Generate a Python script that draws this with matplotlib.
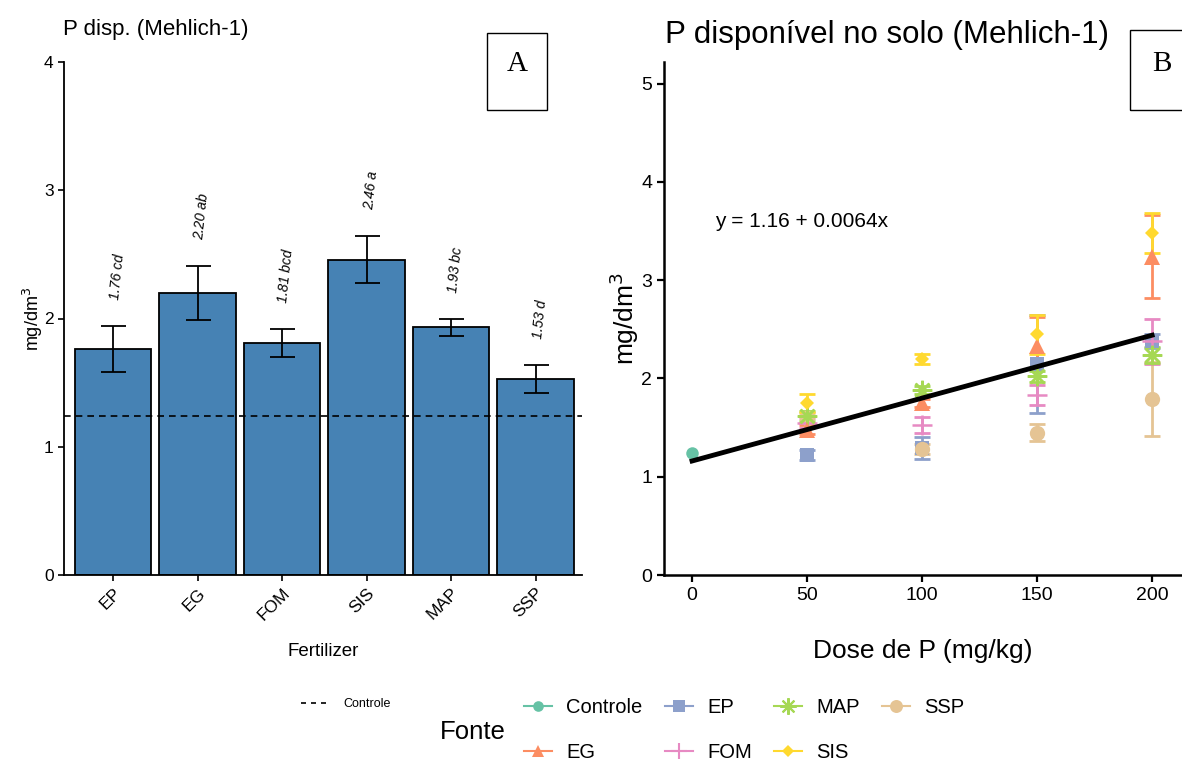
import matplotlib
matplotlib.use("Agg")
import matplotlib.pyplot as plt
from matplotlib.lines import Line2D
from matplotlib.patches import Rectangle
import numpy as np

plt.rcParams['font.family'] = ['Liberation Sans', 'DejaVu Sans']

# ---------------- Panel A data ----------------
fert = ["EP", "EG", "FOM", "SIS", "MAP", "SSP"]
fert_mean = [1.76, 2.20, 1.81, 2.46, 1.93, 1.53]
fert_err = [0.18, 0.21, 0.11, 0.18, 0.07, 0.11]
fert_letters = ["cd", "ab", "bcd", "a", "bc", "d"]
control_value = 1.24

# ---------------- Panel B data ----------------
doses = [50, 100, 150, 200]
sources = ["Controle", "EG", "EP", "FOM", "MAP", "SIS", "SSP"]
control_dose = [0]
control_mean = [1.24]
control_err = [0.0]
ep_mean = [1.22, 1.29, 2.15, 2.38]
ep_err = [0.05, 0.11, 0.50, 0.07]
eg_mean = [1.48, 1.75, 2.33, 3.24]
eg_err = [0.05, 0.04, 0.30, 0.42]
fom_mean = [1.55, 1.53, 1.83, 2.38]
fom_err = [0.05, 0.08, 0.10, 0.23]
map_mean = [1.62, 1.88, 2.02, 2.24]
map_err = [0.05, 0.04, 0.06, 0.08]
sis_mean = [1.75, 2.20, 2.45, 3.48]
sis_err = [0.09, 0.05, 0.20, 0.20]
ssp_mean = [1.60, 1.28, 1.45, 1.79]
ssp_err = [0.05, 0.05, 0.09, 0.38]
reg_intercept = 1.16
reg_slope = 0.0064

W, H = 1182, 760
fig = plt.figure(figsize=(W / 100, H / 100), dpi=100)

def fx(px):
    return px / W

def fy(py):
    return 1 - py / H

# ---------------- Panel A ----------------
axA = fig.add_axes([fx(64), fy(575), fx(582) - fx(64), fy(62) - fy(575)])
x = np.arange(len(fert))
axA.bar(x, fert_mean, width=0.9, color="#4682B4", edgecolor="black", linewidth=1.3, zorder=2)
axA.errorbar(x, fert_mean, yerr=fert_err, fmt="none", ecolor="black", elinewidth=1.3,
             capsize=9, capthick=1.3, zorder=3)
axA.axhline(control_value, color="black", linestyle=(0, (4, 3)), linewidth=1.2, zorder=4)
for xi, m, e, l in zip(x, fert_mean, fert_err, fert_letters):
    axA.text(xi + 0.05, m + e + 0.2, f"{m:.2f} {l}", rotation=84, ha="center", va="bottom",
             fontsize=10, style="italic")
axA.set_xlim(-0.58, 5.55)
axA.set_ylim(0, 4)
axA.set_yticks([0, 1, 2, 3, 4])
axA.set_xticks(x)
axA.set_xticklabels(fert, rotation=45, ha="right", rotation_mode="anchor", fontsize=12.5)
axA.tick_params(axis="y", labelsize=12.5, length=4, width=1.2)
axA.tick_params(axis="x", length=4, width=1.2)
for s in ["top", "right"]:
    axA.spines[s].set_visible(False)
for s in ["left", "bottom"]:
    axA.spines[s].set_linewidth(1.3)
axA.set_xlabel("Fertilizer", fontsize=13.5, labelpad=14)
axA.set_ylabel("mg/dm$^3$", fontsize=13, labelpad=-1)
fig.text(fx(63), fy(30), "P disp. (Mehlich-1)", fontsize=16, ha="left", va="center")

# Box A
fig.patches.append(Rectangle((fx(487), fy(110)), fx(547) - fx(487), fy(33) - fy(110),
                             transform=fig.transFigure, fill=False, edgecolor="black",
                             linewidth=1.0))
fig.text(fx(517), fy(64), "A", fontsize=21, family="Liberation Serif", ha="center", va="center")

# ---------------- Panel B ----------------
axB = fig.add_axes([fx(664), fy(575), fx(1182) - fx(664), fy(62) - fy(575)])
colors = {"Controle": "#66C2A5", "EG": "#FC8D62", "EP": "#8DA0CB", "FOM": "#E78AC3",
          "MAP": "#A6D854", "SIS": "#FFD92F", "SSP": "#E5C494"}
markers = {"Controle": "o", "EG": "^", "EP": "s", "FOM": "+", "MAP": (8, 2, 0),
           "SIS": "D", "SSP": "o"}
msizes = {"Controle": 9, "EG": 11, "EP": 10, "FOM": 14, "MAP": 14, "SIS": 7, "SSP": 11}
series = {
    "Controle": (control_dose, control_mean, control_err),
    "EP": (doses, ep_mean, ep_err),
    "SSP": (doses, ssp_mean, ssp_err),
    "FOM": (doses, fom_mean, fom_err),
    "MAP": (doses, map_mean, map_err),
    "EG": (doses, eg_mean, eg_err),
    "SIS": (doses, sis_mean, sis_err),
}
for name, (dx, dm, de) in series.items():
    c = colors[name]
    if name != "Controle":
        axB.errorbar(dx, dm, yerr=de, fmt="none", ecolor=c, elinewidth=2, capsize=6,
                     capthick=2, zorder=2)
    mew = 1.8 if name in ("FOM", "MAP") else 0
    axB.plot(dx, dm, linestyle="none", marker=markers[name], markersize=msizes[name],
             color=c, markeredgecolor=c, markeredgewidth=mew, zorder=3)

xr = np.array([0, 200])
axB.plot(xr, reg_intercept + reg_slope * xr, color="black", linewidth=3.5, zorder=5)
axB.text(10, 3.6, "y = 1.16 + 0.0064x", fontsize=15, ha="left", va="center")
axB.set_xlim(-12.2, 213)
axB.set_ylim(0, 5.22)
axB.set_xticks([0, 50, 100, 150, 200])
axB.set_yticks([0, 1, 2, 3, 4, 5])
axB.tick_params(labelsize=14, length=5, width=1.6)
for s in ["top", "right"]:
    axB.spines[s].set_visible(False)
for s in ["left", "bottom"]:
    axB.spines[s].set_linewidth(1.8)
axB.set_xlabel("Dose de P (mg/kg)", fontsize=19, labelpad=25)
axB.set_ylabel("mg/dm$^3$", fontsize=19, labelpad=0)
fig.text(fx(665), fy(35), "P disponível no solo (Mehlich-1)", fontsize=22.5, ha="left",
         va="center")

# Box B
fig.patches.append(Rectangle((fx(1130), fy(110)), fx(1195) - fx(1130), fy(30) - fy(110),
                             transform=fig.transFigure, fill=False, edgecolor="black",
                             linewidth=1.0, clip_on=False))
fig.text(fx(1162), fy(64), "B", fontsize=21, family="Liberation Serif", ha="center", va="center")

# ---------------- Legends ----------------
ctrl_handle = Line2D([], [], color="black", linestyle=(0, (3, 3)), linewidth=1.2)
fig.legend([ctrl_handle], ["Controle"], loc="center left", bbox_to_anchor=(fx(290), fy(704)),
           frameon=False, fontsize=9, handlelength=2.2, handletextpad=1.2)

handles = []
for name in sources:
    c = colors[name]
    mew = 1.5 if name in ("FOM", "MAP") else 0
    handles.append(Line2D([], [], color=c, linewidth=1.5, marker=markers[name],
                          markersize=msizes[name] * 0.85, markeredgecolor=c,
                          markeredgewidth=mew))
fig.legend(handles, sources, loc="center left", bbox_to_anchor=(fx(524), fy(730)), ncol=4,
           frameon=False, fontsize=14.5, handlelength=1.4, handletextpad=0.7,
           columnspacing=1.1, labelspacing=1.25, borderpad=0, borderaxespad=0)
fig.text(fx(440), fy(732), "Fonte", fontsize=18.5, ha="left", va="center")

fig.savefig("out.png", dpi=100)
